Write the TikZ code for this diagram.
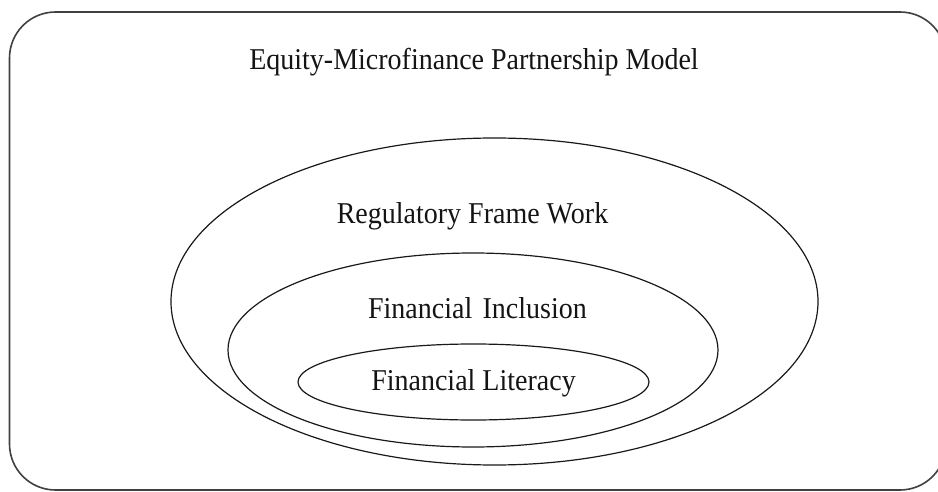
\documentclass[tikz,border=0pt]{standalone}
\usepackage{fontspec}
\setmainfont{Liberation Serif}
\usetikzlibrary{shapes.geometric}
\newcommand{\tallbox}[1]{\scalebox{1}[1.08]{#1}}
\begin{document}
\begin{tikzpicture}[x=1pt,y=-1pt,
  frame/.style={draw=black!75,line width=1.6pt,rounded corners=46pt},
  ring/.style={ellipse,draw=black!90,line width=1.2pt,inner sep=0pt},
  caption/.style={anchor=base,inner sep=0pt,text=black!92,
    font=\fontsize{28}{32}\selectfont}]
\useasboundingbox (0,0) rectangle (938,492);
% outer rounded panel (its right side runs past the page edge)
\draw[frame] (9.5,12) rectangle (946,490);
% nested rings
\node[ring,minimum width=647pt,minimum height=327pt] (reg) at (494.5,301.5) {};
\node[ring,minimum width=490pt,minimum height=194pt] (inc) at (473,350) {};
\node[ring,minimum width=351pt,minimum height=76pt] (lit) at (473.5,382) {};
% labels
\node[caption] (title) at (474,70) {\tallbox{Equity-Microfinance Partnership Model}};
\node[caption] (regt) at (472.5,223) {\tallbox{Regulatory Frame Work}};
\node[caption] (inct) at (477.5,318) {\tallbox{Financial\hspace{0.12em} Inclusion}};
\node[caption] (litt) at (473.5,390) {\tallbox{Financial Literacy}};
\end{tikzpicture}
\end{document}
